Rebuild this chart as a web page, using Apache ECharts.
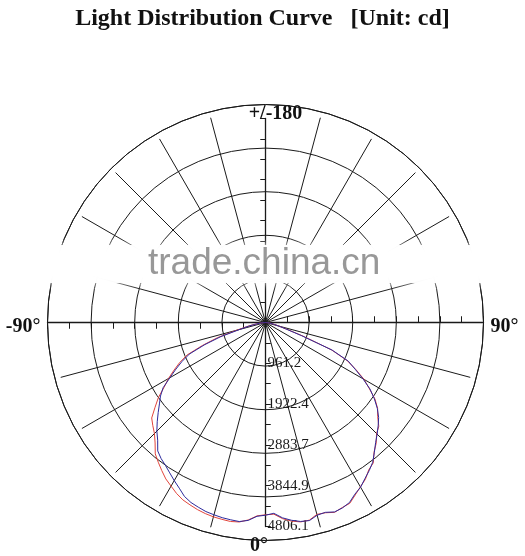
<!DOCTYPE html>
<html>
<head>
<meta charset="utf-8">
<script src="https://cdn.jsdelivr.net/npm/echarts@6/dist/echarts.min.js"></script>
<style>
html,body{margin:0;padding:0;background:#fff;}
#chart{width:525px;height:556px;}
</style>
</head>
<body>
<div id="chart"></div>
<script>
// ---- data ----
const angles = [-90,-87.5,-85,-82.5,-80,-77.5,-75,-72.5,-70,-67.5,-65,-62.5,-60,-57.5,-55,-52.5,-50,-47.5,-45,-42.5,-40,-37.5,-35,-32.5,-30,-27.5,-25,-22.5,-20,-17.5,-15,-12.5,-10,-7.5,-5,-2.5,0,2.5,5,7.5,10,12.5,15,17.5,20,22.5,25,27.5,30,32.5,35,37.5,40,42.5,45,47.5,50,52.5,55,57.5,60,62.5,65,67.5,70,72.5,75,77.5,80,82.5,85,87.5,90];
const redValues = [0,30,90,170,290,460,700,1180,1580,2000,2230,2430,2640,2830,3080,3280,3500,3600,3700,3850,4040,4150,4260,4370,4450,4540,4610,4650,4690,4720,4740,4750,4760,4740,4670,4560,4530,4520,4640,4720,4770,4770,4680,4700,4760,4720,4700,4580,4470,4380,4240,4170,3980,3860,3700,3620,3450,3330,3150,2900,2680,2400,2120,1680,950,520,330,230,160,100,50,20,0];
const blueValues = [0,30,80,150,260,420,620,1100,1520,1940,2170,2380,2600,2860,3020,3150,3300,3460,3620,3760,3950,4040,4110,4200,4300,4400,4520,4590,4630,4670,4690,4710,4720,4730,4680,4570,4540,4500,4620,4700,4760,4780,4700,4690,4750,4730,4680,4560,4480,4360,4260,4150,3990,3840,3720,3600,3480,3320,3130,2920,2650,2380,2150,1700,900,500,320,220,150,90,50,20,0];
const radiusTickLabels = ['961.2','1922.4','2883.7','3844.9','4806.1'];
const radiusMax = 4806.1;
const ringCount = 5;
const angleLabelsSide = {90:'90°', 270:'-90°'};
const angleLabelsVert = {0:'0°', 180:'+/-180'};
const titleText = 'Light Distribution Curve   [Unit: cd]';
const watermarkText = 'trade.china.cn';

// ---- layout ----
const C = [265.5, 322.5];
const R_RING = 218, R_VAL = 204, R_SPOKE = 212;
const SERIF = '"Liberation Serif","Times New Roman",serif';
const LINE = '#1a1a1a';

const polars = [];
const angleAxes = [];
const radiusAxes = [];
function addPolar(radius, angleAxis, radiusAxis) {
  const idx = polars.length;
  polars.push({center: C, radius: radius});
  angleAxes.push(Object.assign({polarIndex: idx, type:'value', min:0, max:360, clockwise:false, startAngle:-90}, angleAxis));
  radiusAxes.push(Object.assign({polarIndex: idx, type:'value', min:0}, radiusAxis));
  return idx;
}
const hidden = {axisLine:{show:false}, axisTick:{show:false}, axisLabel:{show:false}, splitLine:{show:false}};

// 0: rings + outer circle + side labels
addPolar(R_RING, {
  interval:90,
  axisLine:{show:true, lineStyle:{color:LINE, width:1}},
  axisTick:{show:false}, splitLine:{show:false},
  axisLabel:{show:true, margin:7, color:'#111',
    formatter: v => angleLabelsSide[Math.round(v)] ? '{s|' + angleLabelsSide[Math.round(v)] + '}' : '',
    rich:{s:{fontFamily:SERIF, fontWeight:'bold', fontSize:20, color:'#111', padding:[8,0,0,0]}}}
}, Object.assign({}, hidden, {max:ringCount, interval:1,
  splitLine:{show:true, lineStyle:{color:LINE, width:1}}}));

// 1: downward value axis with labels, plus 0 / 180 labels
addPolar(R_VAL, {
  interval:90, axisLine:{show:false}, axisTick:{show:false}, splitLine:{show:false},
  axisLabel:{show:true, margin:-5.5,
    formatter: v => {
      const k = Math.round(v);
      if (k === 0) return '{b|' + angleLabelsVert[0] + '}';
      if (k === 180) return '{t|' + angleLabelsVert[180] + '}';
      return '';
    },
    rich:{
      b:{fontFamily:SERIF, fontWeight:'bold', fontSize:20, color:'#111', padding:[15,13,0,0]},
      t:{fontFamily:SERIF, fontWeight:'bold', fontSize:20, color:'#111', padding:[0,0,0,20]}
    }}
}, {max:radiusMax, interval:radiusMax/10,
  axisLine:{show:true, lineStyle:{color:LINE, width:1.3}},
  axisTick:{show:true, length:5, lineStyle:{color:LINE}},
  splitLine:{show:false},
  axisLabel:{show:true, margin:2, fontFamily:SERIF, fontSize:15, color:'#1a1a1a',
    formatter: v => {
      const k = Math.round(v / (radiusMax/10));
      return (k > 0 && k % 2 === 0) ? radiusTickLabels[k/2 - 1] : '';
    }}
});
// 2: downward ticks other side
addPolar(R_VAL, Object.assign({show:true}, hidden), {max:radiusMax, interval:radiusMax/10,
  axisLine:{show:false}, axisLabel:{show:false}, splitLine:{show:false},
  axisTick:{show:true, inside:true, length:5, lineStyle:{color:LINE}}});
// 3,4: upward axis with ticks both sides
addPolar(R_VAL, Object.assign({startAngle:90}, hidden), {max:radiusMax, interval:radiusMax/10,
  axisLine:{show:true, lineStyle:{color:LINE, width:1.3}}, axisLabel:{show:false}, splitLine:{show:false},
  axisTick:{show:true, length:5, lineStyle:{color:LINE}}});
addPolar(R_VAL, Object.assign({startAngle:90}, hidden), {max:radiusMax, interval:radiusMax/10,
  axisLine:{show:false}, axisLabel:{show:false}, splitLine:{show:false},
  axisTick:{show:true, inside:true, length:5, lineStyle:{color:LINE}}});
// 5-8: horizontal axis (left / right) with ticks both sides
[180, 0].forEach(sa => {
  addPolar(R_RING, Object.assign({startAngle:sa}, hidden), {max:ringCount, interval:0.5,
    axisLine:{show:true, lineStyle:{color:LINE, width:1.3}}, axisLabel:{show:false}, splitLine:{show:false},
    axisTick:{show:true, length:6, lineStyle:{color:LINE}}});
  addPolar(R_RING, Object.assign({startAngle:sa}, hidden), {max:ringCount, interval:0.5,
    axisLine:{show:false}, axisLabel:{show:false}, splitLine:{show:false},
    axisTick:{show:true, inside:true, length:6, lineStyle:{color:LINE}}});
});
// 9: spokes every 15 deg (skip the vertical axis)
const spokeColors = ['rgba(0,0,0,0)'].concat(Array(11).fill(LINE));
addPolar(R_SPOKE, {interval:15, axisLine:{show:false}, axisTick:{show:false}, axisLabel:{show:false},
  splitLine:{show:true, lineStyle:{color:spokeColors, width:1}}}, Object.assign({}, hidden, {max:1}));
// 10: data polar (angles as read: 0 bottom, -90 left, 90 right)
const dataPolar = addPolar(R_VAL, Object.assign({min:-180, max:180, startAngle:90}, hidden),
  Object.assign({}, hidden, {max:radiusMax}));

const chart = echarts.init(document.getElementById('chart'), null, {renderer:'canvas'});
chart.setOption({
  animation:false,
  backgroundColor:'#fff',
  title:{text:titleText, left:'center', top:2,
    textStyle:{fontFamily:SERIF, fontWeight:'bold', fontSize:24, color:'#111'}},
  polar: polars,
  angleAxis: angleAxes,
  radiusAxis: radiusAxes,
  series:[
    {name:'C0-C180', type:'line', coordinateSystem:'polar', polarIndex:dataPolar,
     data: angles.map((a,i)=>[redValues[i], a]), showSymbol:false, symbol:'none',
     lineStyle:{color:'#e2453c', width:1}, z:5},
    {name:'C90-C270', type:'line', coordinateSystem:'polar', polarIndex:dataPolar,
     data: angles.map((a,i)=>[blueValues[i], a]), showSymbol:false, symbol:'none',
     lineStyle:{color:'#2c2a9c', width:1}, z:6}
  ],
  graphic:[
    {type:'rect', z:100, shape:{x:30, y:245, width:460, height:38},
     style:{fill:'rgba(255,255,255,0.95)', shadowBlur:8, shadowColor:'rgba(255,255,255,1)'}},
    {type:'text', z:101, x:148, y:264,
     style:{text:watermarkText, font:'37px "Liberation Sans", Arial, sans-serif', fill:'#989898', verticalAlign:'middle'}}
  ]
});
</script>
</body>
</html>
